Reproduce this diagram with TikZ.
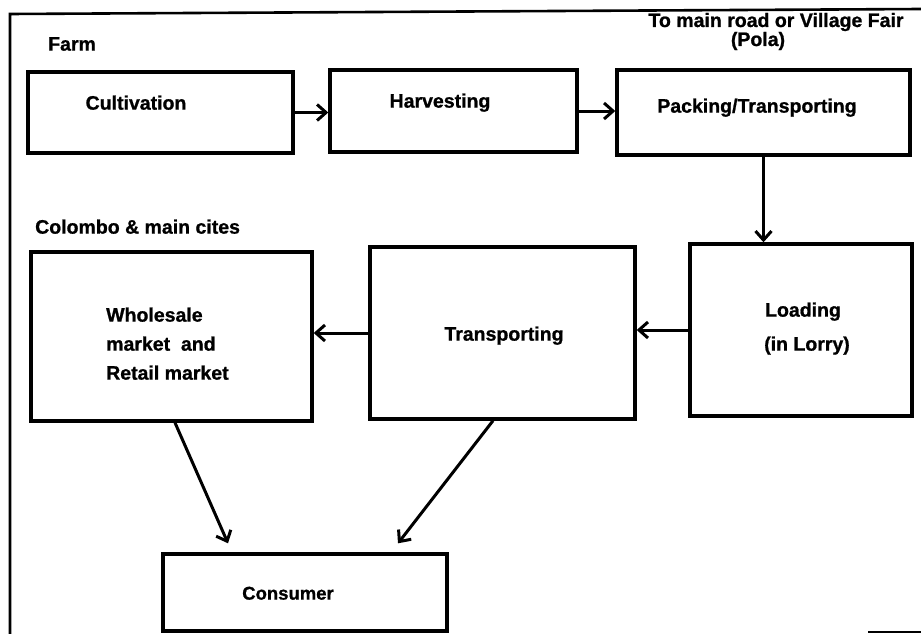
\documentclass[tikz,border=0pt]{standalone}
\usepackage{fontspec}
\setmainfont{Liberation Sans}[BoldFeatures={FakeBold=1}]
\usetikzlibrary{arrows.meta}
\begin{document}
\begin{tikzpicture}[x=1pt,y=-1pt,
  box/.style={draw, line width=3.4pt, inner sep=0pt},
  lbl/.style={font=\fontsize{19.5}{22}\selectfont\bfseries, inner sep=0pt},
  flow/.style={line width=3pt, -{Straight Barb[length=9pt,width=16pt,line width=3pt]}},
  frame/.style={line width=2.6pt}]
\useasboundingbox (0,0) rectangle (921,634);
% outer frame
\coordinate (fbl) at (10,634);
\coordinate (ftl) at (10,14);
\coordinate (ftr) at (921,9);
\draw[frame] (fbl) -- (ftl) -- (ftr);
\coordinate (ma) at (868,632);
\coordinate (mb) at (921,632);
\draw[frame] (ma) -- (mb);
% boxes
\node[box, minimum width=265pt, minimum height=81pt] (cult) at (160.5,112.5) {};
\node[box, minimum width=247pt, minimum height=82pt] (harv) at (453.5,111) {};
\node[box, minimum width=293pt, minimum height=85pt] (pack) at (763.5,112.5) {};
\node[box, minimum width=281pt, minimum height=169pt] (whole) at (171.5,336.5) {};
\node[box, minimum width=265pt, minimum height=172pt] (trans) at (502.5,333) {};
\node[box, minimum width=222pt, minimum height=172pt] (load) at (801,330) {};
\node[box, minimum width=284pt, minimum height=77pt] (cons) at (305,592.5) {};
% texts
\node[lbl, anchor=mid west] (tfarm) at (48,48) {Farm};
\node[lbl, anchor=base] (troad) at (776,27) {To main road or Village Fair};
\node[lbl, anchor=base] (tpola) at (758,46) {(Pola)};
\node[lbl, anchor=mid] (tcult) at (136,107) {Cultivation};
\node[lbl, anchor=mid] (tharv) at (440,105) {Harvesting};
\node[lbl, anchor=mid] (tpack) at (757,110) {Packing/Transporting};
\node[lbl, anchor=mid west] (tcol) at (35,231) {Colombo \& main cites};
\node[lbl, anchor=mid west] (tw1) at (106,319) {Wholesale};
\node[lbl, anchor=mid west] (tw2) at (106,348) {market\ \ and};
\node[lbl, anchor=mid west] (tw3) at (106,377) {Retail market};
\node[lbl, anchor=mid] (ttrans) at (504,338) {Transporting};
\node[lbl, anchor=mid] (tload1) at (803,314) {Loading};
\node[lbl, anchor=mid] (tload2) at (807,348) {(in Lorry)};
\node[lbl, anchor=mid, font=\fontsize{18.5}{22}\selectfont\bfseries] (tcons) at (288,597) {Consumer};
% connectors
\draw[flow] (cult.east) -- (cult.east -| harv.west);
\draw[flow] (harv.east) -- (harv.east -| pack.west);
\draw[flow] (pack.south) -- (pack.south |- load.north);
\draw[flow] (load.west) -- (load.west -| trans.east);
\draw[flow] (trans.west) -- (trans.west -| whole.east);
\draw[flow] ([xshift=3.5pt]whole.south) -- ([xshift=-77pt,yshift=9pt]cons.north);
\draw[flow] ([xshift=-9.5pt]trans.south) -- ([xshift=93pt,yshift=9pt]cons.north);
\end{tikzpicture}
\end{document}
